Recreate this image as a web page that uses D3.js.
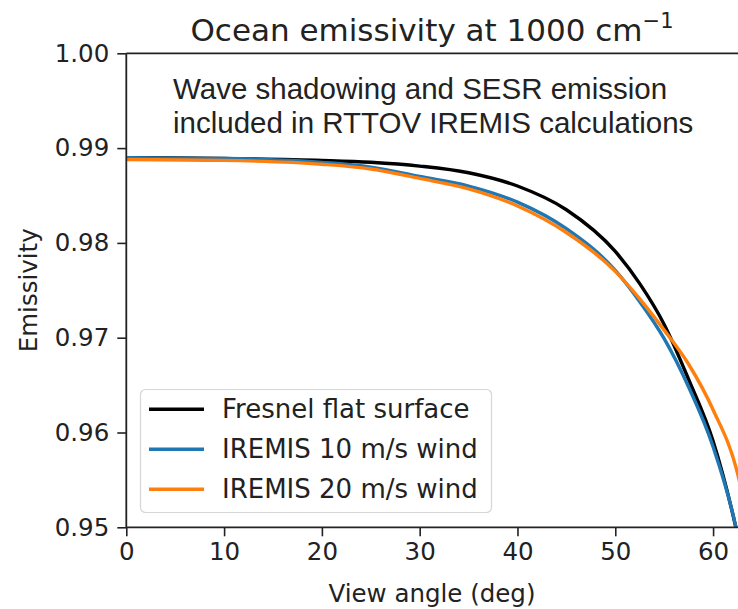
<!DOCTYPE html>
<html>
<head>
<meta charset="utf-8">
<script src="https://cdn.jsdelivr.net/npm/d3@7"></script>
<style>
  html, body { margin: 0; padding: 0; background: #fff; }
  svg { display: block; }
</style>
</head>
<body>
<svg id="chart" width="738" height="609"></svg>
<script>
// view angles (deg)
const view_angles = [0, 10, 20, 25, 30, 35, 40, 45, 50, 52.5, 55, 57.5, 60, 62.5, 63];

const fresnel_flat = [0.9890, 0.9889, 0.9887, 0.9885, 0.9881, 0.9874, 0.9860, 0.9835, 0.9791, 0.9757, 0.9714, 0.9656, 0.9591, 0.9492, 0.9468];
const iremis_10ms = [0.9890, 0.9889, 0.9885, 0.9880, 0.9870, 0.9860, 0.9843, 0.9815, 0.9771, 0.9738, 0.9699, 0.9648, 0.9585, 0.9492, 0.9465];
const iremis_20ms = [0.9888, 0.9887, 0.9883, 0.9878, 0.9868, 0.9857, 0.9839, 0.9811, 0.9770, 0.9741, 0.9708, 0.9672, 0.9624, 0.9557, 0.9535];

const series_names = ["Fresnel flat surface", "IREMIS 10 m/s wind", "IREMIS 20 m/s wind"];
const series_colors = ["#000000", "#1f77b4", "#ff7f0e"];
const series_values = [fresnel_flat, iremis_10ms, iremis_20ms];

const x_ticks = [0, 10, 20, 30, 40, 50, 60];
const y_ticks = [0.95, 0.96, 0.97, 0.98, 0.99, 1.0];

const title_text = "Ocean emissivity at 1000 cm";
const x_label = "View angle (deg)";
const y_label = "Emissivity";
const note_lines = ["Wave shadowing and SESR emission", "included in RTTOV IREMIS calculations"];

const mpl_font = "'DejaVu Sans', sans-serif";
const note_font = "'Liberation Sans', Arial, sans-serif";

const plot_left = 126.3;
const plot_right = 738.5;
const plot_top = 53.3;
const plot_bottom = 527.3;
const tick_length = 9;

const svg = d3.select("#chart");

const x = d3.scaleLinear().domain([0, 62.6]).range([plot_left, plot_right]);
const y = d3.scaleLinear().domain([0.95, 1.0]).range([plot_bottom, plot_top]);

svg.append("defs")
  .append("clipPath")
  .attr("id", "plot-clip")
  .append("rect")
  .attr("x", plot_left)
  .attr("y", plot_top)
  .attr("width", plot_right - plot_left)
  .attr("height", plot_bottom - plot_top);

// curves
const line = d3
  .line()
  .x((d) => x(d[0]))
  .y((d) => y(d[1]))
  .curve(d3.curveMonotoneX);

svg
  .append("g")
  .attr("clip-path", "url(#plot-clip)")
  .selectAll("path")
  .data(series_values)
  .join("path")
  .attr("fill", "none")
  .attr("stroke", (d, i) => series_colors[i])
  .attr("stroke-width", 3.4)
  .attr("stroke-linejoin", "round")
  .attr("d", (vals) => line(view_angles.map((a, i) => [a, vals[i]])));

// axes
const x_axis = svg
  .append("g")
  .attr("transform", `translate(0,${plot_bottom})`)
  .call(d3.axisBottom(x).tickValues(x_ticks).tickSize(tick_length).tickPadding(6).tickFormat(d3.format("d")));

const y_axis = svg
  .append("g")
  .attr("transform", `translate(${plot_left},0)`)
  .call(d3.axisLeft(y).tickValues(y_ticks).tickSize(tick_length).tickPadding(8).tickFormat(d3.format(".2f")));

[x_axis, y_axis].forEach((ax) => {
  ax.select(".domain").remove();
  ax.selectAll(".tick line").attr("stroke", "#222").attr("stroke-width", 1.6);
  ax.selectAll(".tick text")
    .attr("fill", "#222")
    .style("font-family", mpl_font)
    .style("font-size", "24.5px");
});

// spines: left, bottom, top (right side is cut off)
const spines = svg.append("g").attr("stroke", "#222").attr("stroke-width", 1.8);
spines.append("line").attr("x1", plot_left).attr("x2", plot_left).attr("y1", plot_top).attr("y2", plot_bottom);
spines.append("line").attr("x1", plot_left).attr("x2", 738).attr("y1", plot_bottom).attr("y2", plot_bottom);
spines.append("line").attr("x1", plot_left).attr("x2", 738).attr("y1", plot_top).attr("y2", plot_top);

// labels
const title = svg
  .append("text")
  .attr("x", 432)
  .attr("y", 41)
  .attr("text-anchor", "middle")
  .attr("fill", "#222")
  .style("font-family", mpl_font)
  .style("font-size", "31px")
  .text(title_text);
title
  .append("tspan")
  .attr("dy", -13)
  .style("font-size", "21px")
  .text("\u22121");

svg
  .append("text")
  .attr("x", 432)
  .attr("y", 602)
  .attr("text-anchor", "middle")
  .attr("fill", "#222")
  .style("font-family", mpl_font)
  .style("font-size", "24.5px")
  .text(x_label);

svg
  .append("text")
  .attr("transform", `translate(37,${(plot_top + plot_bottom) / 2}) rotate(-90)`)
  .attr("text-anchor", "middle")
  .attr("fill", "#222")
  .style("font-family", mpl_font)
  .style("font-size", "24.5px")
  .text(y_label);

// note in the upper left
svg
  .append("g")
  .selectAll("text")
  .data(note_lines)
  .join("text")
  .attr("x", 173)
  .attr("y", (d, i) => 99 + i * 34)
  .attr("fill", "#222")
  .style("font-family", note_font)
  .style("font-size", "29.5px")
  .text((d) => d);

// legend
const legend = svg.append("g");
legend
  .append("rect")
  .attr("x", 140.5)
  .attr("y", 389.5)
  .attr("width", 351)
  .attr("height", 123)
  .attr("rx", 5)
  .attr("fill", "#fff")
  .attr("fill-opacity", 0.8)
  .attr("stroke", "#d6d6d6")
  .attr("stroke-width", 1.2);

const legend_rows = legend
  .selectAll("g.row")
  .data(series_names)
  .join("g")
  .attr("class", "row")
  .attr("transform", (d, i) => `translate(0,${409.3 + i * 40})`);

legend_rows
  .append("line")
  .attr("x1", 149)
  .attr("x2", 204)
  .attr("stroke", (d, i) => series_colors[i])
  .attr("stroke-width", 3.4);

legend_rows
  .append("text")
  .attr("x", 222)
  .attr("y", 9)
  .attr("fill", "#222")
  .style("font-family", mpl_font)
  .style("font-size", "26px")
  .text((d) => d);
</script>
</body>
</html>
